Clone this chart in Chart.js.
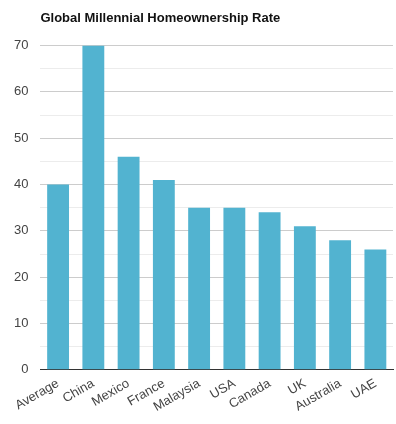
<!DOCTYPE html>
<html>
<head>
<meta charset="utf-8">
<script src="https://cdn.jsdelivr.net/npm/chart.js@4"></script>
<style>
  html, body { margin: 0; padding: 0; background: #fff; }
  #wrap { width: 396px; height: 424px; position: relative; }
</style>
</head>
<body>
<div id="wrap"><canvas id="chart"></canvas></div>
<script>
const categories = ['Average', 'China', 'Mexico', 'France', 'Malaysia', 'USA', 'Canada', 'UK', 'Australia', 'UAE'];
const rates = [40, 70, 46, 41, 35, 35, 34, 31, 28, 26];
const chartTitle = 'Global Millennial Homeownership Rate';

const barColor = '#52b3d0';
const textColor = '#444';

new Chart(document.getElementById('chart').getContext('2d'), {
    type: 'bar',
    data: {
        labels: categories,
        datasets: [
            {
                label: 'Rate',
                data: rates,
                backgroundColor: barColor,
                barPercentage: 0.62,
                categoryPercentage: 1,
            },
        ],
    },
    options: {
        responsive: true,
        maintainAspectRatio: false,
        animation: false,
        layout: {
            padding: { top: 4, right: 3, left: 2, bottom: 3 },
        },
        plugins: {
            legend: { display: false },
            tooltip: { enabled: false },
            title: {
                display: true,
                text: chartTitle,
                align: 'start',
                fullSize: false,
                color: '#111',
                font: { family: 'Liberation Sans, Arial, sans-serif', size: 13, weight: 'bold' },
                padding: { top: 7, bottom: 19 },
            },
        },
        scales: {
            x: {
                grid: { display: false, drawTicks: false },
                border: { color: '#333', width: 1 },
                ticks: {
                    autoSkip: false,
                    color: textColor,
                    font: { family: 'Liberation Sans, Arial, sans-serif', size: 13 },
                    maxRotation: 30,
                    minRotation: 30,
                    padding: 6,
                },
            },
            y: {
                min: 0,
                max: 70,
                border: { display: false },
                grid: {
                    drawTicks: false,
                    color(ctx) {
                        return ctx.tick.value % 10 === 0 ? '#cccccc' : '#ececec';
                    },
                },
                ticks: {
                    stepSize: 5,
                    color: textColor,
                    padding: 12,
                    font: { family: 'Liberation Sans, Arial, sans-serif', size: 13 },
                    callback(value) {
                        return value % 10 === 0 ? value : '';
                    },
                },
            },
        },
    },
});
</script>
</body>
</html>
